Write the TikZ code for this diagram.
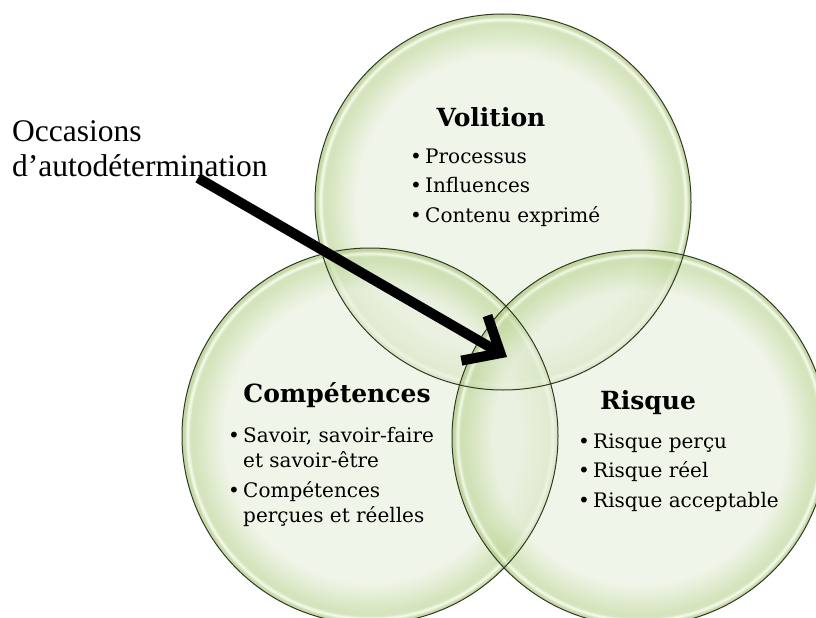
\documentclass[tikz,border=0pt]{standalone}
\usepackage{fontspec}
\setmainfont{DejaVu Serif}
\newfontfamily\labelfont{Liberation Serif}
\usetikzlibrary{arrows.meta,positioning}

\definecolor{ringlite}{HTML}{E9F0DE}
\definecolor{ringmid}{HTML}{BFD79A}
\definecolor{ringshine}{HTML}{F4FAE6}
\definecolor{ringedge}{HTML}{A8C478}
\definecolor{ringline}{HTML}{2E3A22}

% 25bp = rayon du cercle
\pgfdeclareradialshading{bubble}{\pgfpoint{0bp}{0bp}}{%
  color(0bp)=(ringlite);
  color(19.5bp)=(ringlite);
  color(23.4bp)=(ringmid);
  color(23.9bp)=(ringmid);
  color(24.3bp)=(ringshine);
  color(24.7bp)=(ringedge);
  color(25bp)=(ringedge);
  color(50bp)=(ringedge)}

\newcommand\itm{\makebox[15pt][l]{\textbullet}}

\begin{document}
\begin{tikzpicture}[
  x=1pt, y=-1pt,
  bubble/.style={shading=bubble, fill opacity=0.65},
  rim/.style={draw=ringline, line width=1pt},
  title/.style={font=\fontsize{25}{29}\selectfont\bfseries, inner sep=0pt},
  items/.style={font=\fontsize{20}{29.5}\selectfont, align=left, inner sep=0pt, anchor=base west},
  label/.style={font=\labelfont\fontsize{31.5}{35}\selectfont, align=left, inner sep=0pt},
  arrow/.style={line width=10pt, -{Straight Barb[length=30pt, width=52pt, line join=miter]}}
]
\useasboundingbox (0,0) rectangle (816,618);
\fill[white] (0,0) rectangle (816,618);
\clip (0,0) rectangle (816,618);

% les trois cercles
\coordinate (cvol) at (503,202);
\coordinate (ccomp) at (370,436);
\coordinate (crisk) at (640,438);
\shade[bubble] (cvol) circle (188);
\shade[bubble] (ccomp) circle (188);
\shade[bubble] (crisk) circle (188);
\draw[rim] (cvol) circle (188);
\draw[rim] (ccomp) circle (188);
\draw[rim] (crisk) circle (188);

% Volition
\node[title, anchor=base] (volition) at (491,126) {Volition};
\node[items] (volitems) at (410,222)
  {\itm Processus\\ \itm Influences\\ \itm Contenu exprimé};

% Compétences
\node[title, anchor=base] (competences) at (337,402) {Compétences};
\node[items, font=\fontsize{20}{25}\selectfont] (compitems) at (228,522)
  {\itm Savoir, savoir-faire\\ \phantom{\itm}et savoir-être\\[5pt]
   \itm Compétences\\ \phantom{\itm}perçues et réelles};

% Risque
\node[title, anchor=base] (risque) at (648,409) {Risque};
\node[items] (riskitems) at (578,507)
  {\itm Risque perçu\\ \itm Risque réel\\ \itm Risque acceptable};

% Occasions d'autodétermination
\node[label, anchor=base west] (occasions) at (12,176) {Occasions\\d’autodétermination};
\coordinate (tail) at (198,178);
\coordinate (tip) at (507,357);
\draw[arrow, gray!55, shift={(3pt,-3pt)}] (tail) -- (tip);
\draw[arrow] (tail) -- (tip);

\end{tikzpicture}
\end{document}
